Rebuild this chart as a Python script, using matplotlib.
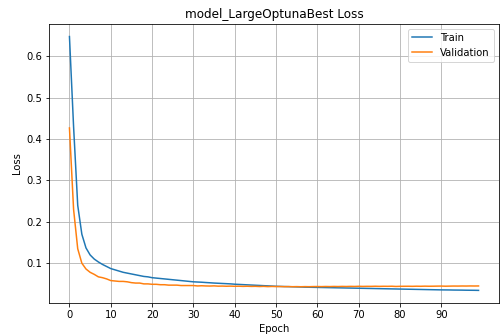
import matplotlib
matplotlib.use("Agg")
import matplotlib.pyplot as plt

model_name = "model_LargeOptunaBest"

train_loss = [
    0.648, 0.430, 0.240, 0.170, 0.137, 0.120, 0.110, 0.103, 0.097, 0.092,
    0.087, 0.084, 0.081, 0.078, 0.076, 0.074, 0.072, 0.070, 0.068, 0.067,
    0.065, 0.064, 0.063, 0.062, 0.061, 0.060, 0.059, 0.058, 0.057, 0.056,
    0.055, 0.0545, 0.054, 0.0533, 0.0527, 0.052, 0.0515, 0.051, 0.0505, 0.050,
    0.0492, 0.0487, 0.0482, 0.0477, 0.0472, 0.0467, 0.0462, 0.0457, 0.0452, 0.0447,
    0.0442, 0.0439, 0.0436, 0.0433, 0.0430, 0.0427, 0.0424, 0.0421, 0.0419, 0.0417,
    0.0415, 0.0413, 0.0411, 0.0409, 0.0407, 0.0405, 0.0403, 0.0401, 0.0399, 0.0397,
    0.0395, 0.0393, 0.0391, 0.0389, 0.0387, 0.0385, 0.0383, 0.0381, 0.0379, 0.0377,
    0.0375, 0.0373, 0.0371, 0.0369, 0.0367, 0.0365, 0.0363, 0.0361, 0.0359, 0.0357,
    0.0355, 0.0354, 0.0353, 0.0351, 0.0350, 0.0349, 0.0347, 0.0346, 0.0345, 0.0343,
]

val_loss = [
    0.427, 0.230, 0.135, 0.100, 0.086, 0.078, 0.073, 0.067, 0.065, 0.062,
    0.058, 0.057, 0.056, 0.056, 0.055, 0.053, 0.052, 0.052, 0.050, 0.050,
    0.049, 0.049, 0.048, 0.048, 0.047, 0.047, 0.047, 0.046, 0.046, 0.046,
    0.046, 0.045, 0.0455, 0.045, 0.0448, 0.0452, 0.0445, 0.0447, 0.0443, 0.0446,
    0.0442, 0.0444, 0.0440, 0.0443, 0.0439, 0.0441, 0.0436, 0.0440, 0.0434, 0.0438,
    0.0435, 0.0436, 0.0433, 0.0435, 0.0432, 0.0434, 0.0431, 0.0434, 0.0432, 0.0435,
    0.0436, 0.0434, 0.0437, 0.0435, 0.0438, 0.0436, 0.0439, 0.0437, 0.0440, 0.0438,
    0.0442, 0.0439, 0.0441, 0.0440, 0.0443, 0.0440, 0.0442, 0.0441, 0.0443, 0.0438,
    0.0441, 0.0442, 0.0443, 0.0441, 0.0444, 0.0442, 0.0445, 0.0443, 0.0444, 0.0446,
    0.0447, 0.0444, 0.0446, 0.0448, 0.0447, 0.0449, 0.0448, 0.0450, 0.0449, 0.0450,
]

epochs = list(range(len(train_loss)))

fig = plt.figure(figsize=(500 / 72, 336 / 72), dpi=72)
ax = fig.add_subplot(111)
fig.subplots_adjust(left=0.098, right=0.998, bottom=0.098, top=0.929)

ax.plot(epochs, train_loss, label="Train")
ax.plot(epochs, val_loss, label="Validation")

ax.set_title(f"{model_name} Loss")
ax.set_xlabel("Epoch")
ax.set_ylabel("Loss")
ax.set_xticks(range(0, 100, 10))
ax.legend(loc="upper right")
ax.grid(True)

fig.savefig("out.png", dpi=72)
